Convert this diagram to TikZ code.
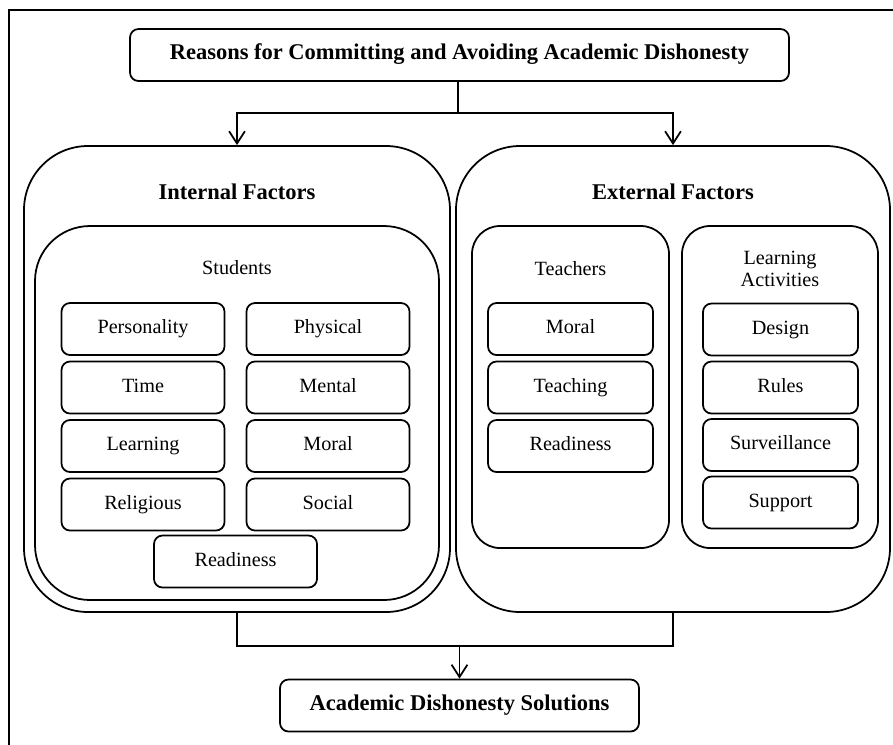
\documentclass[tikz,border=0pt]{standalone}
\usepackage{fontspec}
\setmainfont{Liberation Serif}
\usetikzlibrary{arrows.meta}

\begin{document}
\begin{tikzpicture}[
    line width=1pt,
    every node/.style={font=\fontsize{11.5}{13}\selectfont, align=center},
    headbox/.style={draw, rounded corners=0.17cm, minimum height=1.04cm, text height=1.7ex, text depth=0.5ex, font=\fontsize{12.8}{15}\selectfont\bfseries},
    groupbox/.style={draw, rounded corners=1.28cm, minimum width=#1, minimum height=9.32cm},
    subbox/.style={draw, rounded corners=#1},
    itembox/.style={draw, rounded corners=0.17cm, minimum width=#1, minimum height=1.04cm, text height=1.7ex, text depth=0.5ex},
    title/.style={font=\fontsize{12.8}{15}\selectfont\bfseries},
    >={Straight Barb[length=7pt,width=9pt]},
]
\useasboundingbox (0,0) rectangle (17.86,-14.88);
\clip (0,0) rectangle (17.86,-14.88);

% Frame (runs off the right and bottom edges)
\draw (18.5,-0.2) -- (0.18,-0.2) -- (0.18,-15.5);

% Top and bottom boxes
\node[headbox, minimum width=13.18cm] (reasons) at (9.19,-1.1) {Reasons for Committing and Avoiding Academic Dishonesty};
\node[headbox, minimum width=7.18cm] (solutions) at (9.19,-14.11) {Academic Dishonesty Solutions};

% Two factor groups
\node[groupbox=8.52cm] (internal) at (4.74,-7.58) {};
\node[groupbox=8.68cm] (external) at (13.46,-7.58) {};
\node[title] at (4.74,-3.84) {Internal Factors};
\node[title] at (13.46,-3.84) {External Factors};

% Inner groups
\node[subbox=1.1cm, minimum width=8.08cm, minimum height=7.48cm] (students) at (4.74,-8.26) {};
\node[subbox=0.56cm, minimum width=3.94cm, minimum height=6.44cm] (teachers) at (11.41,-7.74) {};
\node[subbox=0.56cm, minimum width=3.92cm, minimum height=6.44cm] (activities) at (15.6,-7.74) {};
\node at (4.74,-5.36) {Students};
\node at (11.41,-5.38) {Teachers};
\node[font=\fontsize{11.5}{12.5}\selectfont] at (15.6,-5.38) {Learning\\Activities};

% Student items
\foreach \name/\x/\y in {Personality/2.86/-6.58, Time/2.86/-7.75, Learning/2.86/-8.92, Religious/2.86/-10.09,
                         Physical/6.56/-6.58, Mental/6.56/-7.75, Moral/6.56/-8.92, Social/6.56/-10.09,
                         Readiness/4.71/-11.23} {
    \node[itembox=3.26cm] (s\name) at (\x,\y) {\name};
}

% Teacher items
\foreach \name/\y in {Moral/-6.58, Teaching/-7.75, Readiness/-8.92} {
    \node[itembox=3.3cm] (t\name) at (11.41,\y) {\name};
}

% Learning activity items
\foreach \name/\y in {Design/-6.59, Rules/-7.75, Surveillance/-8.9, Support/-10.05} {
    \node[itembox=3.1cm] (a\name) at (15.61,\y) {\name};
}

% Connectors
\coordinate (split) at (9.16,-2.26);
\coordinate (join) at (9.19,-12.92);
\draw (reasons.south -| split) -- (split);
\draw[->] (split) -| (internal.north);
\draw[->] (split) -| (external.north);
\draw (internal.south) |- (join) -| (external.south);
\draw[->] (join) -- (solutions.north);

\end{tikzpicture}
\end{document}
